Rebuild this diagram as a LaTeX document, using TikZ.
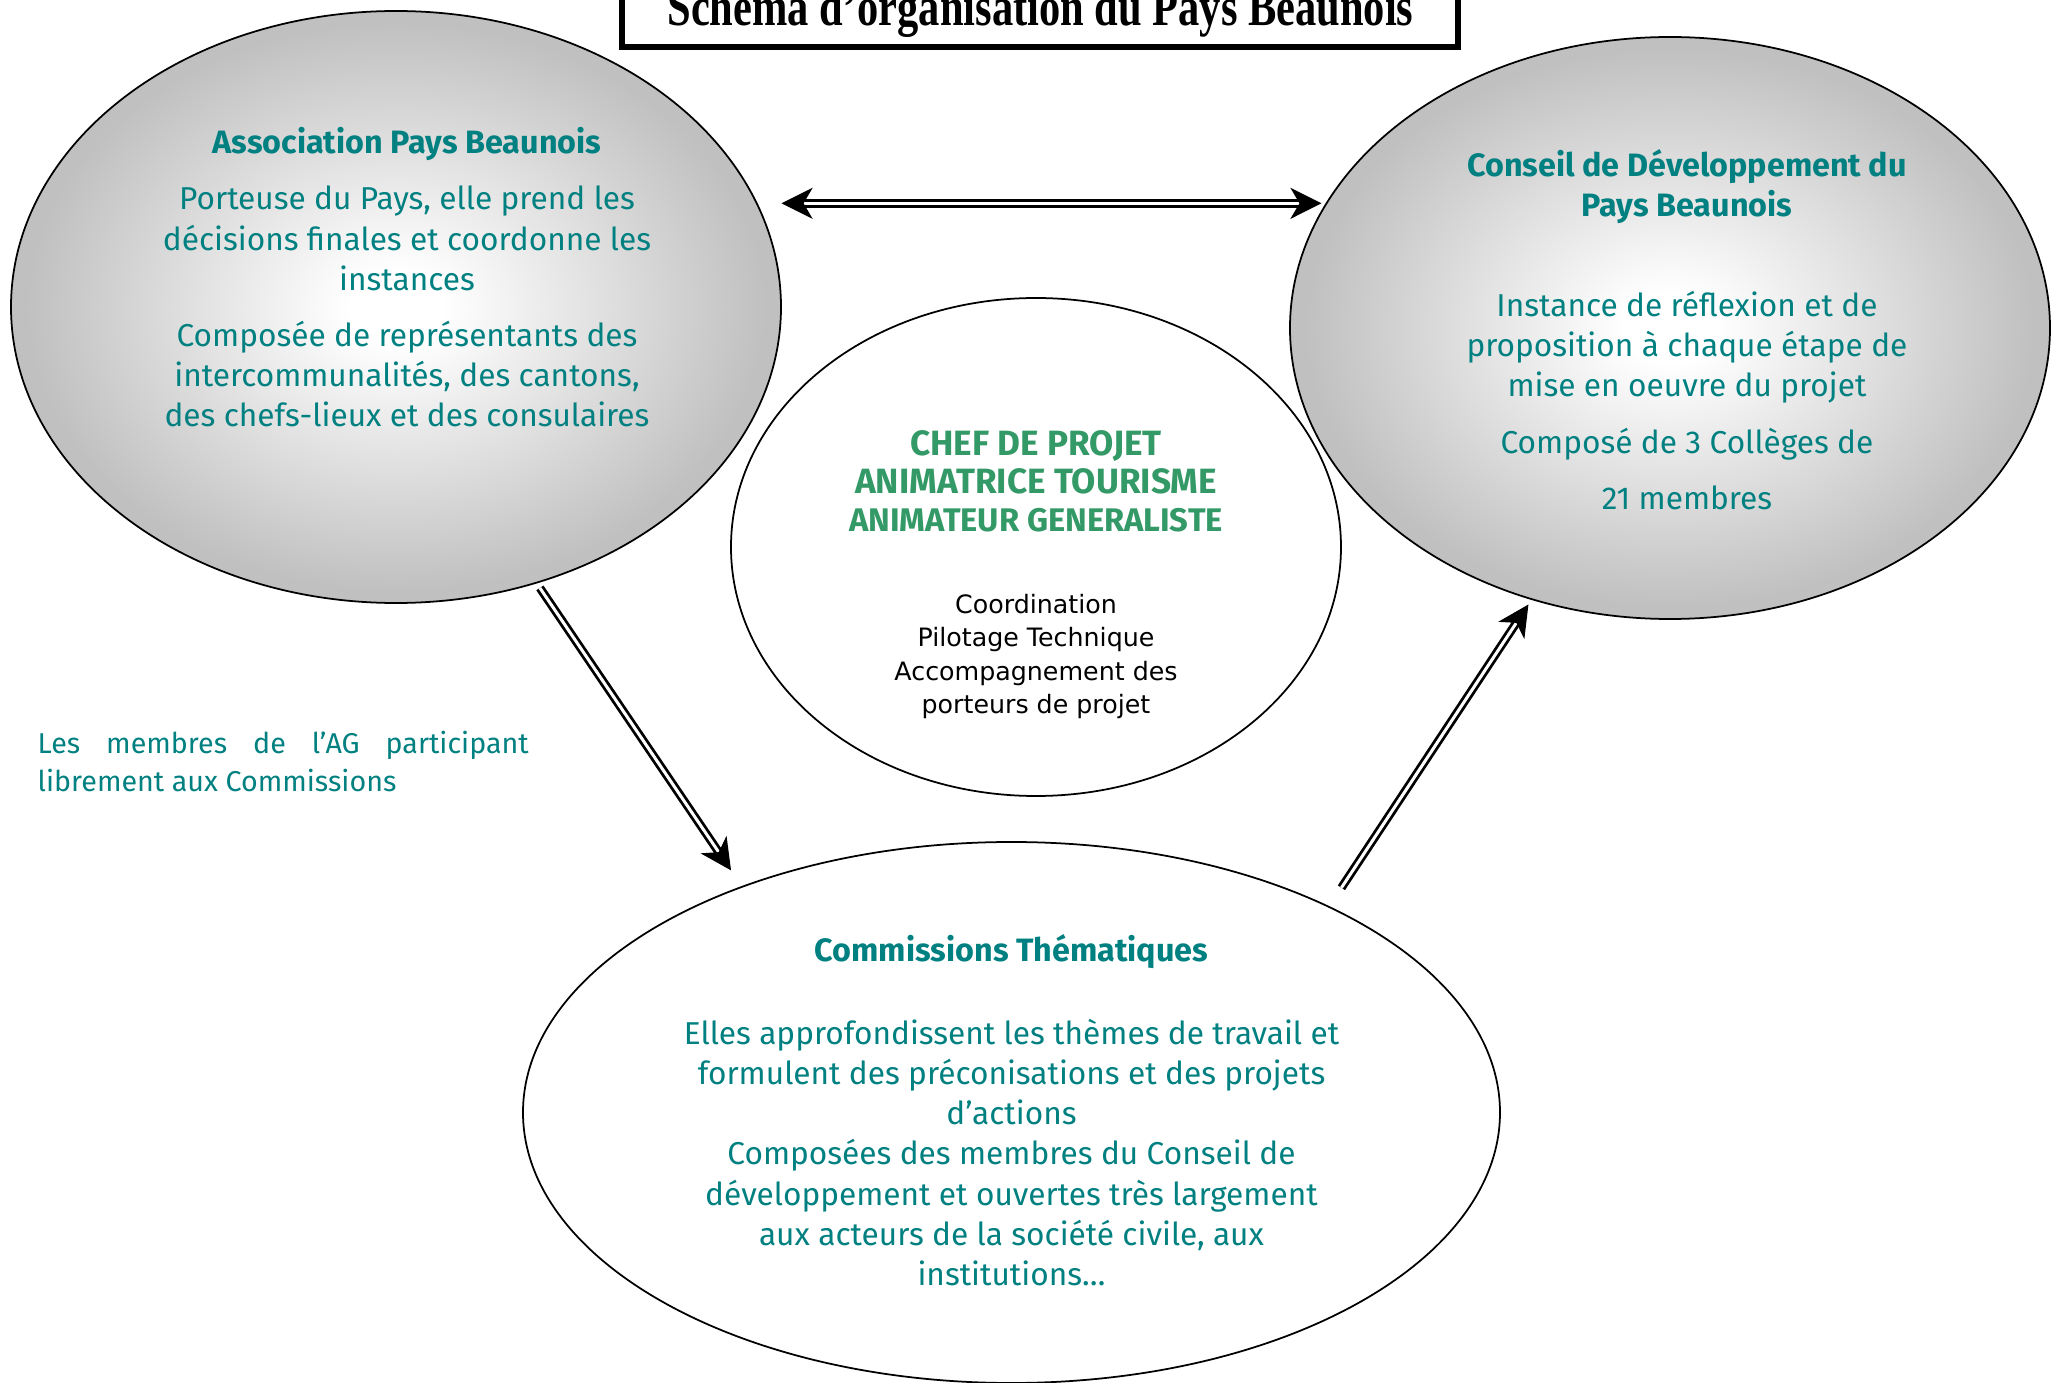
\documentclass[tikz,border=0pt]{standalone}
\usepackage{fontspec}
\setmainfont{Fira Sans}
\newfontfamily\notefont{DejaVu Sans}
\newfontfamily\titlefont[FakeStretch=0.78]{Liberation Serif}
\usetikzlibrary{arrows.meta, shapes.geometric, positioning}

\definecolor{tealtext}{RGB}{0,128,128}
\definecolor{greentext}{RGB}{51,153,102}
\definecolor{edgegray}{RGB}{192,192,192}

% white centre fading to grey at the rim
\pgfdeclareradialshading{glow}{\pgfpointorigin}{color(0bp)=(white); color(3bp)=(white); color(24bp)=(edgegray); color(50bp)=(edgegray)}

\tikzset{
	bubble/.style={ellipse, draw, line width=0.5pt, inner sep=0pt},
	graybubble/.style={bubble, shade, shading=glow},
	whitebubble/.style={bubble, fill=white},
	bodytext/.style={inner sep=0pt, align=center, text=tealtext, font=\fontsize{9pt}{11.4pt}\selectfont},
	link/.style={double, line width=0.28mm, double distance=0.3mm},
	>={Stealth[length=3.1mm, width=3.1mm, inset=0.9mm]}
}

\begin{document}
\begin{tikzpicture}[x=1cm, y=1cm]
		\useasboundingbox (0,0) rectangle (20.51,-13.83);
		\clip (0,0) rectangle (20.51,-13.83);

		% title
		\node (titlebox) at (10.40,-0.05) [draw, line width=0.6mm, fill=white, minimum width=8.36cm, minimum height=0.84cm] {};
		\node (title) at (10.405,-0.26) [anchor=base, inner sep=0pt, font=\titlefont\bfseries\fontsize{15.5pt}{16pt}\selectfont] {Schéma d’organisation du Pays Beaunois};

		% the four bodies
		\node (asso) at (3.96,-3.07) [graybubble, minimum width=7.70cm, minimum height=5.92cm] {};
		\node (conseil) at (16.70,-3.28) [graybubble, minimum width=7.60cm, minimum height=5.82cm] {};
		\node (chef) at (10.36,-5.47) [whitebubble, minimum width=6.10cm, minimum height=4.98cm] {};
		\node (comm) at (10.115,-11.125) [whitebubble, minimum width=9.77cm, minimum height=5.41cm] {};

		\node (assotext) at (4.07,-1.27) [bodytext, anchor=north] {{\bfseries\fontsize{9.2pt}{11.4pt}\selectfont Association Pays Beaunois}\\[1.6mm]
			Porteuse du Pays, elle prend les\\ décisions finales et coordonne les\\ instances\\[1.6mm]
			Composée de représentants des\\ intercommunalités, des cantons,\\ des chefs-lieux et des consulaires};

		\node (conseiltext) at (16.87,-1.49) [bodytext, anchor=north] {{\bfseries\fontsize{9.2pt}{11.4pt}\selectfont Conseil de Développement du}\\ {\bfseries\fontsize{9.2pt}{11.4pt}\selectfont Pays Beaunois}\\[6mm]
			Instance de réflexion et de\\ proposition à chaque étape de\\ mise en oeuvre du projet\\[1.6mm]
			Composé de 3 Collèges de\\[1.6mm] 21 membres};

		\node (chefteam) at (10.36,-4.30) [inner sep=0pt, align=center, text=greentext, font=\bfseries\fontsize{10pt}{10.8pt}\selectfont, anchor=north] {CHEF DE PROJET\\ ANIMATRICE TOURISME\\ {\fontsize{9.3pt}{10.6pt}\selectfont ANIMATEUR GENERALISTE}};
		\node (chefroles) at (10.36,-5.94) [inner sep=0pt, align=center, anchor=north, font=\notefont\fontsize{7.2pt}{9.4pt}\selectfont] {Coordination\\ Pilotage Technique\\ Accompagnement des\\ porteurs de projet};

		\node (commtext) at (10.115,-9.34) [bodytext, anchor=north] {{\bfseries\fontsize{9.2pt}{11.4pt}\selectfont Commissions Thématiques}\\[4.3mm]
			Elles approfondissent les thèmes de travail et\\ formulent des préconisations et des projets\\ d’actions\\
			Composées des membres du Conseil de\\ développement et ouvertes très largement\\ aux acteurs de la société civile, aux\\ institutions…};

		\node (agnote) at (0.37,-7.30) [anchor=north west, inner sep=0pt, text width=4.91cm, align=justify, text=tealtext, font=\fontsize{8.15pt}{10.8pt}\selectfont] {Les membres de l’AG participant\linebreak librement aux Commissions};

		% double arrows between the bodies
		\draw[link, <->, shorten <=2.4mm, shorten >=0.45mm] (asso.16) -- (conseil.160 |- asso.16);
		\draw[link, ->, shorten <=0.55mm, shorten >=1.9mm] (asso.-63) -- (comm.140);
		\draw[link, ->, shorten <=2.2mm, shorten >=0.55mm] (comm.33) -- (conseil.-117);
	\end{tikzpicture}
\end{document}
